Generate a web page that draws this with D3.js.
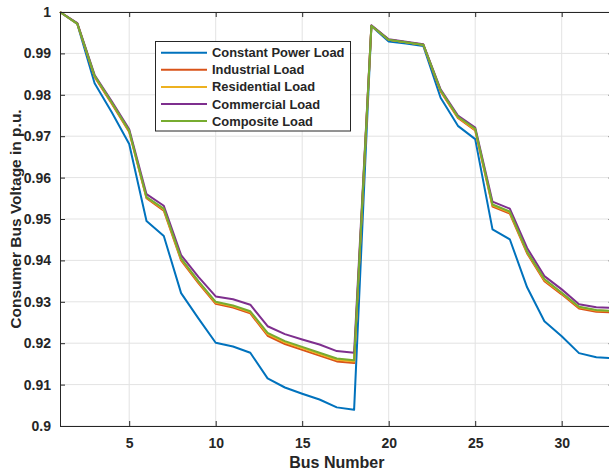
<!DOCTYPE html>
<html>
<head>
<meta charset="utf-8">
<script src="https://cdn.jsdelivr.net/npm/d3@7"></script>
<style>
  body { margin: 0; background: #fff; }
  svg { display: block; }
  text { font-family: "Liberation Sans", Arial, sans-serif; font-weight: bold; fill: #262626; }
</style>
</head>
<body>
<div id="chart"></div>
<script>
// bus numbers 1..33
var buses = d3.range(1, 34);

var constantPower = [1.0, 0.9971, 0.9828, 0.9757, 0.9681, 0.9495, 0.9459, 0.9321, 0.926, 0.9201, 0.9192, 0.9177, 0.9115, 0.9093, 0.9078, 0.9064, 0.9045, 0.9039,
  0.9966, 0.9929, 0.9924, 0.9918, 0.9793, 0.9725, 0.9693, 0.9475, 0.9451, 0.9335, 0.9253, 0.9217, 0.9176, 0.9166, 0.9164];
var industrial = [1.0, 0.9972, 0.9843, 0.9778, 0.9710, 0.9550, 0.9520, 0.9400, 0.9345, 0.9295, 0.9286, 0.9272, 0.9218, 0.9198, 0.9184, 0.9170, 0.9156, 0.9152,
  0.9967, 0.9933, 0.9927, 0.9921, 0.9808, 0.9744, 0.9714, 0.9530, 0.9513, 0.9417, 0.9350, 0.9318, 0.9284, 0.9276, 0.9274];
var residential = [1.0, 0.9972, 0.9845, 0.9780, 0.9712, 0.9552, 0.9523, 0.9403, 0.9348, 0.9298, 0.9289, 0.9275, 0.9222, 0.9202, 0.9188, 0.9174, 0.9160, 0.9156,
  0.9967, 0.9933, 0.9927, 0.9921, 0.9810, 0.9746, 0.9716, 0.9533, 0.9516, 0.9420, 0.9353, 0.9321, 0.9287, 0.9279, 0.9277];
var commercial = [1.0, 0.9973, 0.9848, 0.9784, 0.9717, 0.9560, 0.9532, 0.9413, 0.9360, 0.9313, 0.9306, 0.9293, 0.9241, 0.9222, 0.9209, 0.9197, 0.9181, 0.9177,
  0.9968, 0.9934, 0.9928, 0.9922, 0.9813, 0.9750, 0.9721, 0.9542, 0.9525, 0.9430, 0.9362, 0.9330, 0.9294, 0.9287, 0.9285];
var composite = [1.0, 0.9972, 0.9846, 0.9781, 0.9713, 0.9553, 0.9525, 0.9405, 0.9350, 0.9300, 0.9291, 0.9277, 0.9225, 0.9205, 0.9191, 0.9177, 0.9163, 0.9159,
  0.9967, 0.9933, 0.9927, 0.9921, 0.9811, 0.9747, 0.9718, 0.9535, 0.9518, 0.9421, 0.9355, 0.9322, 0.9288, 0.9280, 0.9278];

var seriesNames = ['Constant Power Load', 'Industrial Load', 'Residential Load', 'Commercial Load', 'Composite Load'];
var seriesValues = [constantPower, industrial, residential, commercial, composite];
var seriesColors = ['#0072BD', '#D95319', '#EDB120', '#7E2F8E', '#77AC30'];

var xTicks = [5, 10, 15, 20, 25, 30];
var yTicks = [0.9, 0.91, 0.92, 0.93, 0.94, 0.95, 0.96, 0.97, 0.98, 0.99, 1];

var width = 609, height = 472;
var plotLeft = 60, plotTop = 12, plotRight = 613.6, plotBottom = 426;

var svg = d3.select('#chart').append('svg')
  .attr('width', width)
  .attr('height', height);

var x = d3.scaleLinear().domain([1, 33]).range([plotLeft, plotRight]);
var y = d3.scaleLinear().domain([0.9, 1]).range([plotBottom, plotTop]);

// grid
svg.append('g').selectAll('line')
  .data(xTicks).enter().append('line')
    .attr('x1', function(d) { return x(d); })
    .attr('x2', function(d) { return x(d); })
    .attr('y1', plotTop).attr('y2', plotBottom)
    .attr('stroke', '#e3e3e3').attr('stroke-width', 1);
svg.append('g').selectAll('line')
  .data(yTicks).enter().append('line')
    .attr('y1', function(d) { return y(d); })
    .attr('y2', function(d) { return y(d); })
    .attr('x1', plotLeft).attr('x2', plotRight)
    .attr('stroke', '#e3e3e3').attr('stroke-width', 1);

// lines
var line = d3.line()
  .x(function(d, i) { return x(buses[i]); })
  .y(function(d) { return y(d); });

svg.append('g').selectAll('path')
  .data(seriesValues).enter().append('path')
    .attr('d', line)
    .attr('fill', 'none')
    .attr('stroke', function(d, i) { return seriesColors[i]; })
    .attr('stroke-width', 2)
    .attr('stroke-linejoin', 'round');

// axes (ticks inward, MATLAB style)
var fmt = function(d) { return String(+d.toFixed(2)); };

svg.append('g')
  .attr('transform', 'translate(0,' + plotBottom + ')')
  .call(d3.axisBottom(x).tickValues(xTicks).tickSizeInner(-5).tickSizeOuter(0).tickPadding(12));
svg.append('g')
  .attr('transform', 'translate(0,' + plotTop + ')')
  .call(d3.axisTop(x).tickValues(xTicks).tickSizeInner(-5).tickSizeOuter(0).tickFormat(''));
svg.append('g')
  .attr('transform', 'translate(' + plotLeft + ',0)')
  .call(d3.axisLeft(y).tickValues(yTicks).tickSizeInner(-5).tickSizeOuter(0).tickPadding(9).tickFormat(fmt));
svg.append('g')
  .attr('transform', 'translate(' + plotRight + ',0)')
  .call(d3.axisRight(y).tickValues(yTicks).tickSizeInner(-5).tickSizeOuter(0).tickFormat(''));

svg.selectAll('.domain').attr('stroke', '#262626').attr('stroke-width', 1);
svg.selectAll('.tick line').attr('stroke', '#262626');
svg.selectAll('.tick text').style('font-size', '14px').attr('fill', '#262626');

// axis labels
svg.append('text')
  .attr('x', (plotLeft + plotRight) / 2).attr('y', 468)
  .attr('text-anchor', 'middle')
  .style('font-size', '16px')
  .text('Bus Number');
svg.append('text')
  .attr('transform', 'translate(21,' + ((plotTop + plotBottom) / 2) + ') rotate(-90)')
  .attr('text-anchor', 'middle')
  .style('font-size', '15.5px')
  .text('Consumer Bus Voltage in p.u.');

// legend
var legend = svg.append('g');
legend.append('rect')
  .attr('x', 155.5).attr('y', 41.5)
  .attr('width', 195).attr('height', 89.5)
  .attr('fill', '#fff').attr('stroke', '#262626').attr('stroke-width', 1);
var items = legend.selectAll('g')
  .data(seriesNames).enter().append('g')
    .attr('transform', function(d, i) { return 'translate(0,' + (52.7 + i * 17.1) + ')'; });
items.append('line')
  .attr('x1', 161).attr('x2', 207)
  .attr('stroke', function(d, i) { return seriesColors[i]; })
  .attr('stroke-width', 2);
items.append('text')
  .attr('x', 212).attr('dy', '0.35em')
  .style('font-size', '12.9px')
  .text(function(d) { return d; });
</script>
</body>
</html>
